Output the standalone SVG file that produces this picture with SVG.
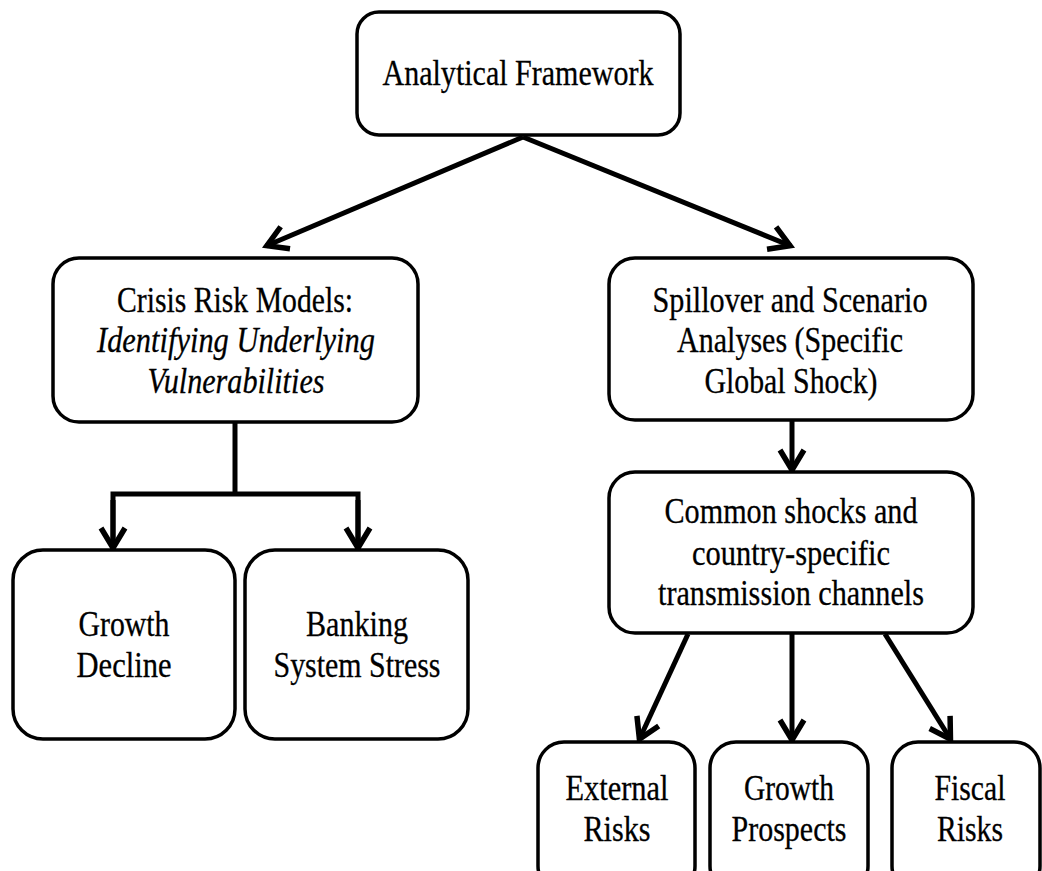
<svg xmlns="http://www.w3.org/2000/svg" width="1042" height="871" viewBox="0 0 1042 871">
<style>
.box{fill:#fff;stroke:#000;stroke-width:3.5}
.t{font-family:"Liberation Serif","Times New Roman",serif;font-size:36px;fill:#000;stroke:#000;stroke-width:0.3;text-anchor:middle}
.i{font-style:italic}
.c{fill:none;stroke:#000;stroke-width:5}
</style>
<defs>
<marker id="ah" markerUnits="userSpaceOnUse" viewBox="-26 -15 30 30" refX="0" refY="0" markerWidth="30" markerHeight="30" orient="auto">
<path d="M-21,-12 L-1,0 L-21,12" fill="none" stroke="#000" stroke-width="5.5"/>
</marker>
</defs>
<g id="connectors">
<line class="c" x1="523" y1="137" x2="266" y2="246" marker-end="url(#ah)"/>
<line class="c" x1="523" y1="137" x2="791" y2="246" marker-end="url(#ah)"/>
<line class="c" x1="235" y1="423" x2="235" y2="496"/>
<polyline class="c" points="113,550 113,494 358,494 358,550" stroke-linejoin="miter"/>
<line class="c" x1="113" y1="500" x2="113" y2="549" marker-end="url(#ah)"/>
<line class="c" x1="358" y1="500" x2="358" y2="549" marker-end="url(#ah)"/>
<line class="c" x1="792" y1="421" x2="792" y2="471" marker-end="url(#ah)"/>
<line class="c" x1="688" y1="634" x2="639" y2="740" marker-end="url(#ah)"/>
<line class="c" x1="792" y1="634" x2="792" y2="741" marker-end="url(#ah)"/>
<line class="c" x1="885" y1="634" x2="951" y2="740" marker-end="url(#ah)"/>
</g>
<g id="analytical-framework">
<rect class="box" x="357" y="12" width="323" height="123" rx="22"/>
<text class="t" x="518" y="85" textLength="271" lengthAdjust="spacingAndGlyphs">Analytical Framework</text>
</g>
<g id="crisis-risk-models">
<rect class="box" x="53" y="258" width="365" height="164" rx="26"/>
<text class="t" x="235" y="312" textLength="236" lengthAdjust="spacingAndGlyphs">Crisis Risk Models:</text>
<text class="t i" x="236" y="352" textLength="278" lengthAdjust="spacingAndGlyphs">Identifying Underlying</text>
<text class="t i" x="236" y="393" textLength="177" lengthAdjust="spacingAndGlyphs">Vulnerabilities</text>
</g>
<g id="spillover">
<rect class="box" x="609" y="258" width="364" height="162" rx="26"/>
<text class="t" x="790" y="312" textLength="275" lengthAdjust="spacingAndGlyphs">Spillover and Scenario</text>
<text class="t" x="790" y="352" textLength="226" lengthAdjust="spacingAndGlyphs">Analyses (Specific</text>
<text class="t" x="791" y="393" textLength="173" lengthAdjust="spacingAndGlyphs">Global Shock)</text>
</g>
<g id="common-shocks">
<rect class="box" x="609" y="472" width="364" height="161" rx="26"/>
<text class="t" x="791" y="523" textLength="253" lengthAdjust="spacingAndGlyphs">Common shocks and</text>
<text class="t" x="791" y="565" textLength="198" lengthAdjust="spacingAndGlyphs">country-specific</text>
<text class="t" x="791" y="605" textLength="266" lengthAdjust="spacingAndGlyphs">transmission channels</text>
</g>
<g id="growth-decline">
<rect class="box" x="13" y="550" width="222" height="189" rx="30"/>
<text class="t" x="124" y="636" textLength="91" lengthAdjust="spacingAndGlyphs">Growth</text>
<text class="t" x="124" y="677" textLength="95" lengthAdjust="spacingAndGlyphs">Decline</text>
</g>
<g id="banking-stress">
<rect class="box" x="245" y="550" width="223" height="189" rx="30"/>
<text class="t" x="357" y="636" textLength="102" lengthAdjust="spacingAndGlyphs">Banking</text>
<text class="t" x="357" y="677" textLength="167" lengthAdjust="spacingAndGlyphs">System Stress</text>
</g>
<g id="external-risks">
<rect class="box" x="538" y="742" width="157" height="150" rx="26"/>
<text class="t" x="617" y="800" textLength="103" lengthAdjust="spacingAndGlyphs">External</text>
<text class="t" x="617" y="841" textLength="67" lengthAdjust="spacingAndGlyphs">Risks</text>
</g>
<g id="growth-prospects">
<rect class="box" x="710" y="742" width="158" height="150" rx="26"/>
<text class="t" x="789" y="800" textLength="90" lengthAdjust="spacingAndGlyphs">Growth</text>
<text class="t" x="789" y="841" textLength="115" lengthAdjust="spacingAndGlyphs">Prospects</text>
</g>
<g id="fiscal-risks">
<rect class="box" x="892" y="742" width="148" height="150" rx="26"/>
<text class="t" x="970" y="800" textLength="71" lengthAdjust="spacingAndGlyphs">Fiscal</text>
<text class="t" x="970" y="841" textLength="66" lengthAdjust="spacingAndGlyphs">Risks</text>
</g>
</svg>
